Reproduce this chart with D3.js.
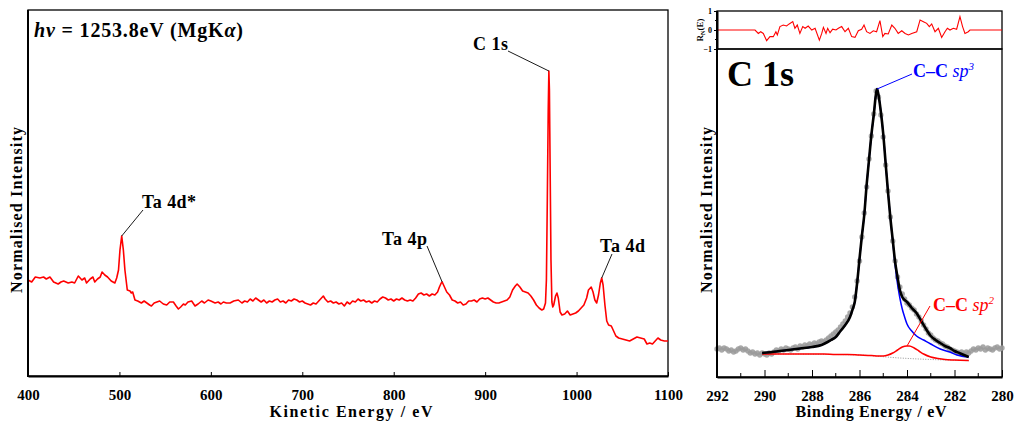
<!DOCTYPE html>
<html><head><meta charset="utf-8">
<script src="https://cdn.jsdelivr.net/npm/d3@7"></script>
<style>
body{margin:0;background:#fff}
text{font-family:"Liberation Serif","Times New Roman",serif;font-weight:bold;fill:#000}
</style>
</head><body>
<svg id="c" width="1016" height="423"></svg>
<script>
// ---------- Survey spectrum (kinetic energy, eV / intensity a.u.) ----------
const surveyKE = [400,404,408,413,417,420,424,428,433,436,439,444,448,451,455,459,462,464,468,471,473,476,479,481,484,487,491,495,497,499,500.6,502.5,504.3,506,508.6,511.6,513,514.5,517,520,524,527,530,533,535,538,541,544,548,551.7,555,559,562,564.5,567,570,572,575,579,582.7,586,590,593,597,600,604.6,608,611,613.7,617,621,625,630,634,637,640,643,646,649,652,655,658,661,664,667,670,673,676,679,682,685,688,691,694,697,700,703,706,709,712,715,718,721,723,725,728,731,734,737,740,743,746,749,752,755,758,761,764,767,770,773,776,779,782,785,788,791,794,797,800,803,806,809,812,815,818,821,824,827,830,833,836,839,842,845,848,850,852,853,855,858,861,864,867,870,873,876,879,882,885,888,891,894,897,900,903,906,909,912,915,918,921,924,927,930,933,935,938,941,944,947,950,953,956,959,962,964,966,967,968,969,969.7,970.3,971,972,973,974,975,977,978.5,980,982,984,987,990,993,996,999,1002,1005,1008,1011,1013,1016,1018,1020,1022,1024,1026,1027.5,1029,1031,1033,1035,1038,1040,1043,1046,1050,1054,1058,1062,1066,1070,1074,1077,1080,1083,1086,1089,1092,1096,1100];
const surveyI = [96,94,99,98,99,97,99,94,92,94,95,93,94,93,100,96,98,93,97,99,94,97,99,104,101,99,95,93,98,106,126,140,126,106,86,85,83,84,76,75,73,75,73,71,70,73,74,75,72,71,74,74,70,67,69,72,71,74,75,70,72,75,73,76,75,73,74,72,74,73,73,75,76,73,75,74,77,75,78,76,74,76,73,75,74,76,77,74,75,73,76,75,77,76,74,75,73,72,71,73,72,75,78,80,77,74,75,73,74,72,73,70,74,72,75,74,77,75,76,74,75,73,75,74,77,79,78,76,77,75,77,76,78,76,75,76,75,78,82,83,81,82,80,82,81,84,89,93,94,90,84,81,76,75,73,74,71,72,75,75,76,74,77,78,77,78,76,74,73,73,74,75,76,79,86,90,92,89,85,84,83,80,76,71,68,66,67,73,96,176,266,305,286,216,116,74,69,71,80,83,78,64,61,62,65,61,62,63,65,68,71,78,86,89,84,76,73,81,93,98,91,71,55,51,50,46,40,38,37,36,35,37,39,38,37,32,33,32,35,38,36,35,35];
const surveyTicks = [400,500,600,700,800,900,1000,1100];
const surveyLabels = [
  {text:"Ta 4d*", ke:502.5, i:140},
  {text:"Ta 4p",  ke:853,   i:94},
  {text:"C 1s",   ke:969.7, i:305},
  {text:"Ta 4d",  ke:1027.5,i:98}
];

// ---------- C 1s high resolution (binding energy, eV) ----------
const dataBE = [292.0,291.9,291.8,291.7,291.6,291.5,291.4,291.3,291.2,291.1,291.0,290.9,290.8,290.7,290.6,290.5,290.4,290.3,290.2,290.1,290.0,289.9,289.8,289.7,289.6,289.5,289.4,289.3,289.2,289.1,289.0,288.9,288.8,288.7,288.6,288.5,288.4,288.3,288.2,288.1,288.0,287.9,287.8,287.7,287.6,287.5,287.4,287.3,287.2,287.1,287.0,286.9,286.8,286.7,286.6,286.5,286.4,286.3,286.2,286.1,286.0,285.9,285.8,285.7,285.6,285.5,285.4,285.3,285.2,285.1,285.0,284.9,284.8,284.7,284.6,284.5,284.4,284.3,284.2,284.1,284.0,283.9,283.8,283.7,283.6,283.5,283.4,283.3,283.2,283.1,283.0,282.9,282.8,282.7,282.6,282.5,282.4,282.3,282.2,282.1,282.0,281.9,281.8,281.7,281.6,281.5,281.4,281.3,281.2,281.1,281.0,280.9,280.8,280.7,280.6,280.5,280.4,280.3,280.2,280.1,280.0];
const dataI = [28,29,27,29,28,26,27,25,26,28,29,27,28,26,24,25,23,24,22,24,23,22,24,23,25,27,26,28,27,29,28,27,29,30,28,31,30,32,31,33,32,34,33,35,36,35,37,39,41,43,45,47,50,53,56,60,64,70,80,96,116,140,164,190,218,241,263,286,280,262,240,212,186,160,136,116,100,90,83,78,74,72,69,67,63,60,56,52,48,44,42,39,37,36,34,33,31,30,28,27,26,25,24,25,23,25,24,26,28,27,29,28,30,27,29,28,27,29,30,28,29];

const envBE = [290.1,289.5,289.0,288.5,288.0,287.6,287.2,287.0,286.8,286.6,286.4,286.3,286.2,286.1,286.0,285.9,285.8,285.7,285.6,285.5,285.4,285.3,285.26,285.2,285.1,285.0,284.9,284.8,284.7,284.6,284.5,284.4,284.3,284.2,284.1,284.0,283.8,283.6,283.4,283.2,283.0,282.8,282.6,282.4,282.2,282.0,281.8,281.6,281.4];
const envI  = [24,25.5,27,28.5,30,32,37,40,46,52,60,67,75,94,118,141,162,192,217,242,262,284,288,282,265,243,214,185,159,137,115,100,87,80,77,75,69,64,56,48,41,37,34,31,29,26,24,22,20];

const sp3BE = [290.1,289.5,289.0,288.5,288.0,287.6,287.2,287.0,286.8,286.6,286.4,286.3,286.2,286.1,286.0,285.9,285.8,285.7,285.6,285.5,285.4,285.3,285.26,285.2,285.1,285.0,284.9,284.8,284.7,284.6,284.5,284.4,284.3,284.2,284.1,284.0,283.8,283.6,283.3,283.0,282.6,282.2,281.9,281.4];
const sp3I  = [24,25.5,27,28.5,30,32,37,40,46,52,60,67,75,94,118,141,162,192,217,242,262,284,288,282,265,243,214,185,159,136,112,93,79,68,60,53,46,41,37,33,28,25,22,20];

const sp2BE = [290.1,289.5,289.0,288.5,288.0,287.5,287.0,286.5,286.0,285.5,285.2,285.0,284.8,284.6,284.4,284.2,284.0,283.9,283.7,283.5,283.3,283.0,282.7,282.4,282.0,281.4];
const sp2I  = [23,23,23,23,23,23,22.5,22.5,22,21.5,21,21,22,24,27,30,31,31,29,26,23,20,18.5,17.5,17,16.5];

const bgBE = [290.1,289.0,288.0,287.0,286.0,285.5,285.0,284.5,284.0,283.5,283.0,282.0,281.4];
const bgI  = [23,23,22.8,22.5,22,21.3,20.3,19.3,18.6,18,17.5,16.8,16.3];

const resBE = [292.0,290.4,290.26,290.16,290.05,289.91,289.77,289.63,289.52,289.46,289.35,289.21,289.07,288.96,288.81,288.72,288.62,288.51,288.39,288.29,288.16,288.01,287.87,287.69,287.59,287.52,287.41,287.34,287.24,287.13,286.99,286.89,286.75,286.61,286.47,286.33,286.19,286.05,285.91,285.81,285.70,285.56,285.42,285.28,285.14,285.02,284.93,284.79,284.64,284.51,284.37,284.22,284.08,283.94,283.80,283.59,283.45,283.31,283.17,283.06,282.96,282.82,282.68,282.54,282.40,282.30,282.19,282.05,281.91,281.77,281.66,281.56,281.42,281.35,280.0];
const resV  = [0,0,-0.18,-0.09,-0.18,-0.56,-0.35,-0.35,-0.09,-0.26,0.18,0.26,0.21,0.32,0.44,0.09,0.26,-0.18,0.18,0.09,0.21,0,0.09,-0.53,-0.18,0.14,-0.18,0.09,-0.14,0.04,0,0.09,0.18,-0.09,0.09,-0.35,-0.39,-0.04,0.04,0.26,-0.09,-0.18,-0.04,-0.09,0.49,-0.35,-0.18,-0.21,0.26,0.09,-0.18,-0.04,-0.18,-0.26,-0.18,-0.09,0.53,0.44,0.35,0.18,0.32,-0.09,0.09,-0.39,-0.09,0.09,0,0.09,0.04,0.70,0.18,-0.18,-0.09,0,0];

const beTicks = [292,290,288,286,284,282,280];
const beMinor = [291,289,287,285,283,281];
const resTicks = [1,0,-1];

// ---------- drawing ----------
const svg = d3.select("#c");

// Left panel
const L = {l:28, r:668, t:10, b:376};
const xS = d3.scaleLinear().domain([400,1100]).range([L.l, L.r]);
const yS = d3.scaleLinear().domain([0,366]).range([L.b, L.t]);

svg.append("rect").attr("x",L.l).attr("y",L.t).attr("width",L.r-L.l).attr("height",L.b-L.t)
  .attr("fill","none").attr("stroke","#000").attr("stroke-width",1.3);

const survey = surveyKE.map((k,i)=>[k,surveyI[i]]);
svg.append("path").datum(survey)
  .attr("d", d3.line().x(d=>xS(d[0])).y(d=>yS(d[1])))
  .attr("fill","none").attr("stroke","#ff0000").attr("stroke-width",1.6).attr("stroke-linejoin","round");

const gx = svg.append("g").attr("transform",`translate(0,${L.b})`)
  .call(d3.axisBottom(xS).tickValues(surveyTicks).tickFormat(d3.format("d")).tickSizeInner(-4).tickSizeOuter(0).tickPadding(13));
gx.select(".domain").attr("stroke-width",2);
gx.selectAll("text").attr("font-size",15).attr("font-family","Liberation Serif").attr("font-weight","bold").attr("fill","#000");
svg.append("line").attr("x1",L.l).attr("x2",L.l).attr("y1",L.t).attr("y2",L.b+1).attr("stroke","#000").attr("stroke-width",2);

svg.append("text").attr("x",(L.l+L.r)/2+3).attr("y",417).attr("text-anchor","middle")
  .attr("font-size",16).attr("textLength",163).attr("lengthAdjust","spacing").text("Kinetic Energy / eV");
svg.append("text").attr("transform","translate(22,210) rotate(-90)").attr("text-anchor","middle")
  .attr("font-size",16).attr("textLength",166).attr("lengthAdjust","spacing").text("Normalised Intensity");

// title
const tt = svg.append("text").attr("x",34).attr("y",37).attr("font-size",20).attr("textLength",209).attr("lengthAdjust","spacing");
tt.append("tspan").attr("font-style","italic").text("hν");
tt.append("tspan").text(" = 1253.8eV (MgK");
tt.append("tspan").attr("font-style","italic").text("α");
tt.append("tspan").text(")");

// peak labels
const labelPos = {
  "Ta 4d*": {tx:142, ty:208, w:54, lx:143, ly:210},
  "Ta 4p":  {tx:382, ty:245, w:45, lx:427, ly:246},
  "C 1s":   {tx:473, ty:50,  w:35, lx:508, ly:51},
  "Ta 4d":  {tx:600, ty:252, w:45, lx:612, ly:254}
};
surveyLabels.forEach(s=>{
  const p = labelPos[s.text];
  svg.append("line").attr("x1",p.lx).attr("y1",p.ly).attr("x2",xS(s.ke)).attr("y2",yS(s.i))
    .attr("stroke","#000").attr("stroke-width",0.9);
  svg.append("text").attr("x",p.tx).attr("y",p.ty).attr("font-size",18)
    .attr("textLength",p.w).attr("lengthAdjust","spacing").text(s.text);
});

// Right panels
const R = {l:717, r:1002, t:49, b:377, rt:11};
const xr = d3.scaleLinear().domain([292,280]).range([R.l, R.r]);
const yr = d3.scaleLinear().domain([0,328]).range([R.b, R.t]);
const yres = d3.scaleLinear().domain([-1,1]).range([R.t, R.rt]);

// residual
svg.append("rect").attr("x",R.l).attr("y",R.rt).attr("width",R.r-R.l).attr("height",R.t-R.rt)
  .attr("fill","none").attr("stroke","#000").attr("stroke-width",1.3);
const resid = resBE.map((b,i)=>[b,resV[i]]);
svg.append("path").datum(resid)
  .attr("d", d3.line().x(d=>xr(d[0])).y(d=>yres(d[1])))
  .attr("fill","none").attr("stroke","#ff0000").attr("stroke-width",1.1);
const gres = svg.append("g").attr("transform",`translate(${R.l},0)`)
  .call(d3.axisLeft(yres).tickValues(resTicks).tickFormat(d3.format("d")).tickSizeInner(3).tickSizeOuter(0).tickPadding(2));
gres.select(".domain").attr("stroke-width",2);
gres.selectAll("text").attr("font-size",8).attr("font-family","Liberation Serif").attr("font-weight","bold").attr("fill","#000");
[0.5,-0.5].forEach(v=>svg.append("line").attr("x1",R.l-2).attr("x2",R.l).attr("y1",yres(v)).attr("y2",yres(v)).attr("stroke","#000").attr("stroke-width",1));
const rl = svg.append("text").attr("transform","translate(703,30) rotate(-90)").attr("text-anchor","middle").attr("font-size",9);
rl.append("tspan").text("R");
rl.append("tspan").attr("font-size",6).attr("dy",2).text("N");
rl.append("tspan").attr("dy",-2).text("(E)");

// main C1s
svg.append("rect").attr("x",R.l).attr("y",R.t).attr("width",R.r-R.l).attr("height",R.b-R.t)
  .attr("fill","none").attr("stroke","#000").attr("stroke-width",1.3);

svg.append("g").selectAll("circle").data(dataBE.map((b,i)=>[b,dataI[i]])).join("circle")
  .attr("cx",d=>xr(d[0])).attr("cy",d=>yr(d[1])).attr("r",2.7)
  .attr("fill","#9a9a9a").attr("opacity",0.85);

const lineR = d3.line().x(d=>xr(d[0])).y(d=>yr(d[1])).curve(d3.curveMonotoneX);
const pts = (a,b)=>a.map((v,i)=>[v,b[i]]).sort((p,q)=>p[0]-q[0]);
svg.append("path").datum(pts(bgBE,bgI)).attr("d",lineR).attr("fill","none")
  .attr("stroke","#777").attr("stroke-width",0.8).attr("stroke-dasharray","1,1.5");
svg.append("path").datum(pts(sp2BE,sp2I)).attr("d",lineR).attr("fill","none")
  .attr("stroke","#ff0000").attr("stroke-width",1.5);
svg.append("path").datum(pts(sp3BE,sp3I)).attr("d",lineR).attr("fill","none")
  .attr("stroke","#0000ff").attr("stroke-width",1.5);
svg.append("path").datum(pts(envBE,envI)).attr("d",lineR).attr("fill","none")
  .attr("stroke","#000").attr("stroke-width",2.6);

const gxr = svg.append("g").attr("transform",`translate(0,${R.b})`)
  .call(d3.axisBottom(xr).tickValues(beTicks).tickFormat(d3.format("d")).tickSizeInner(-7).tickSizeOuter(0).tickPadding(13));
gxr.select(".domain").attr("stroke-width",2);
gxr.selectAll("text").attr("font-size",15).attr("font-family","Liberation Serif").attr("font-weight","bold").attr("fill","#000");
beMinor.forEach(v=>svg.append("line").attr("x1",xr(v)).attr("x2",xr(v)).attr("y1",R.b).attr("y2",R.b-4).attr("stroke","#000").attr("stroke-width",1));
svg.append("line").attr("x1",R.l).attr("x2",R.l).attr("y1",R.rt).attr("y2",R.b+1).attr("stroke","#000").attr("stroke-width",2);

svg.append("text").attr("x",871).attr("y",417).attr("text-anchor","middle")
  .attr("font-size",16).attr("textLength",151).attr("lengthAdjust","spacing").text("Binding Energy / eV");
svg.append("text").attr("transform","translate(712,210) rotate(-90)").attr("text-anchor","middle")
  .attr("font-size",16).attr("textLength",166).attr("lengthAdjust","spacing").text("Normalised Intensity");

svg.append("text").attr("x",727).attr("y",86).attr("font-size",36).text("C 1s");

// component labels
const peakI = d3.max(envI), peakBE = envBE[envI.indexOf(peakI)];
svg.append("line").attr("x1",912).attr("y1",74).attr("x2",xr(peakBE)).attr("y2",yr(peakI))
  .attr("stroke","#0000ff").attr("stroke-width",1);
const l3 = svg.append("text").attr("x",913).attr("y",77).attr("font-size",18).style("fill","#0000ff");
l3.append("tspan").text("C–C ");
l3.append("tspan").attr("font-style","italic").attr("font-weight","normal").text("sp");
l3.append("tspan").attr("font-style","italic").attr("font-weight","normal").attr("font-size",11).attr("dy",-7).text("3");

const sp2Peak = d3.max(sp2I), sp2PeakBE = sp2BE[sp2I.indexOf(sp2Peak)];
svg.append("line").attr("x1",930).attr("y1",306).attr("x2",xr(sp2PeakBE)).attr("y2",yr(sp2Peak))
  .attr("stroke","#ff0000").attr("stroke-width",1);
const l2 = svg.append("text").attr("x",933).attr("y",311).attr("font-size",18).style("fill","#ff0000");
l2.append("tspan").text("C–C ");
l2.append("tspan").attr("font-style","italic").attr("font-weight","normal").text("sp");
l2.append("tspan").attr("font-style","italic").attr("font-weight","normal").attr("font-size",11).attr("dy",-7).text("2");
</script>
</body></html>
